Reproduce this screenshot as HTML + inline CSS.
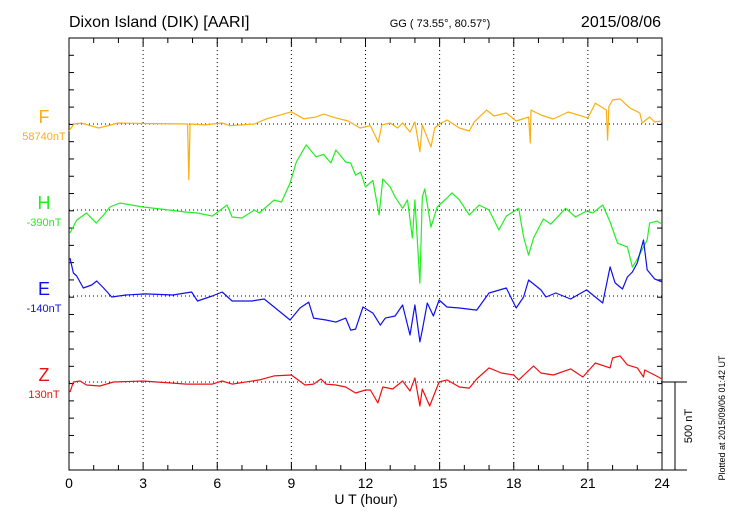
<!DOCTYPE html>
<html><head><meta charset="utf-8"><style>
html,body{margin:0;padding:0;background:#fff;}
svg{display:block;font-family:"Liberation Sans",sans-serif;}
</style></head><body>
<svg id="chart" width="730" height="520" viewBox="0 0 730 520" xmlns="http://www.w3.org/2000/svg">
<rect x="0" y="0" width="730" height="520" fill="#fff"/>
<text x="69" y="27" font-size="16" fill="#000">Dixon Island (DIK)  [AARI]</text>
<text x="440" y="27" font-size="11" text-anchor="middle" fill="#000">GG ( 73.55°,  80.57°)</text>
<text x="661" y="27" font-size="16" text-anchor="end" fill="#000">2015/08/06</text>
<text x="366" y="504" font-size="14" text-anchor="middle" fill="#000">U T (hour)</text>
<text transform="translate(725,418) rotate(-90)" font-size="9" text-anchor="middle" fill="#000">Plotted at 2015/09/06 01:42 UT</text>
<text transform="translate(692,426) rotate(-90)" font-size="11" text-anchor="middle" fill="#000">500 nT</text>
<g id="grid"></g><g id="axes"></g><g id="series"></g><g id="labels"></g>
</svg>
<script>
const NS='http://www.w3.org/2000/svg';
const X0=69,X1=662,Y0=38,Y1=470;
const PXNT=87/500;
const xTicks=[0,3,6,9,12,15,18,21,24];
const fTimes=[0,0.2,0.5,1.2,2,3,4.8,4.85,4.9,5.5,6.2,6.5,7.5,8,9,9.5,10,10.3,10.8,11.3,11.78,12.2,12.52,12.66,13,13.3,13.5,13.8,14,14.2,14.3,14.65,14.8,15,15.3,15.8,16.2,16.4,16.9,17.2,17.7,18.1,18.6,18.67,18.7,19.1,19.6,20.2,21,21.3,21.75,21.8,21.85,22,22.3,22.7,23.1,23.2,23.5,23.7,24];
const fVals=[-40,0,5,-23,6,3,0,-320,0,-5,6,-10,0,30,70,30,40,57,35,17,-23,-10,-104,-6,6,-23,6,-46,12,-160,-6,-132,-23,0,23,-23,-40,12,80,46,63,17,40,-110,80,52,29,69,35,120,80,-92,100,138,144,92,63,6,40,12,17];
const hTimes=[0.04,0.31,0.71,1.1,1.4,1.66,2.06,3,3.7,4.76,5.2,5.8,6.4,6.6,7,7.5,7.7,8.3,8.6,8.95,9.2,9.6,10,10.3,10.6,10.8,11.2,11.4,11.6,11.8,12,12.3,12.55,12.7,13,13.2,13.5,13.7,13.9,14,14.2,14.3,14.4,14.65,14.9,15.3,15.5,15.8,16.2,16.6,17,17.4,17.7,18.2,18.4,18.6,18.8,19.2,19.5,20.1,20.5,20.95,21.2,21.6,21.9,22.2,22.6,22.8,23,23.4,23.5,23.8,24];
const hVals=[-132,-58,-17,-75,-29,17,40,17,6,-12,-17,-35,29,-40,-46,0,-17,57,46,155,276,374,305,320,270,345,276,270,200,218,132,170,-29,178,132,75,10,58,-161,58,-420,75,121,-98,17,69,98,58,-29,29,0,-115,-35,10,-155,-259,-161,-52,-81,10,-40,-6,-17,29,-69,-190,-213,-328,-282,-172,-75,-64,-81];
const eTimes=[0.04,0.18,0.31,0.58,0.92,1.12,1.4,1.73,2.3,3.1,4.2,4.96,5.2,5.8,6.2,6.6,7.4,7.9,8.3,8.95,9.35,9.7,9.9,10.4,10.8,11.2,11.4,11.6,11.9,12.1,12.3,12.6,12.8,13.2,13.5,13.8,14,14.2,14.3,14.5,14.75,14.98,15.3,15.8,16.5,17,17.7,18.1,18.4,18.6,19.1,19.3,19.7,20.3,20.95,21.6,21.9,22.1,22.4,22.6,22.8,23,23.25,23.4,23.7,24];
const eVals=[218,132,115,46,63,86,46,-6,6,12,6,23,-29,0,23,-29,-29,-17,-63,-138,-69,-35,-127,-138,-150,-127,-196,-190,-63,-81,-98,-167,-127,-115,-52,-224,-52,-264,-196,-40,-115,-23,-63,-69,-81,17,46,-69,-6,92,35,-6,17,-17,35,-40,167,75,40,109,138,190,322,150,98,81];
const zTimes=[0.04,0.18,0.45,0.71,1.25,1.8,3,4.76,5.8,6.2,6.6,7.7,8.3,9,9.55,9.9,10.2,10.4,10.8,11.2,11.6,12,12.2,12.5,12.7,13.1,13.5,13.8,14,14.2,14.3,14.6,14.98,15.3,15.8,16.2,16.5,17,17.5,18,18.2,18.8,19.1,19.6,20.3,20.8,21.3,21.9,22,22.3,22.6,23,23.25,23.3,23.7,24];
const zVals=[-58,0,6,-17,-23,0,6,-12,-12,6,-12,12,35,40,-17,-12,17,-12,-17,-29,-63,-46,-46,-120,-29,-40,6,-52,23,-138,-40,-138,0,12,-29,-35,17,81,52,40,12,92,52,40,75,29,109,81,138,150,98,81,29,69,40,17];
const baseY={F:124,H:210,E:296,Z:382};
const xs=h=>X0+(X1-X0)*h/24;
const yv=(b,v)=>b-v*PXNT;
function mk(tag,attrs,parent){const e=document.createElementNS(NS,tag);for(const k in attrs)e.setAttribute(k,attrs[k]);parent.appendChild(e);return e;}
const grid=document.getElementById('grid'),axes=document.getElementById('axes'),ser=document.getElementById('series'),lab=document.getElementById('labels');
// vertical dotted grid
for(let i=1;i<xTicks.length-1;i++){const x=xs(xTicks[i]);
const l=mk('line',{x1:x,y1:Y0,x2:x,y2:Y1,stroke:'#000','stroke-width':1,'stroke-dasharray':'1,3'},grid);

}
// horizontal baselines
for(const k in baseY){const l=mk('line',{x1:X0,y1:baseY[k],x2:X1,y2:baseY[k],stroke:'#000','stroke-width':1,'stroke-dasharray':'1,3'},grid);

}
// frame
const fr=mk('rect',{x:X0,y:Y0,width:X1-X0,height:Y1-Y0,fill:'none',stroke:'#000','stroke-width':1},axes);


// x ticks
for(let h=0;h<=24;h++){const x=xs(h);const len=h%3===0?8:5;
mk('line',{x1:x,y1:Y1,x2:x,y2:Y1-len,stroke:'#000'},axes);
mk('line',{x1:x,y1:Y0,x2:x,y2:Y0+len,stroke:'#000'},axes);}
xTicks.forEach(h=>{const t=mk('text',{x:xs(h),y:488,'font-size':14,'text-anchor':'middle',fill:'#000'},lab);t.textContent=h;

});
// y ticks
for(let i=1;i<25;i++){const y=Y1-i*(Y1-Y0)/25;
mk('line',{x1:X0,y1:y,x2:X0+5,y2:y,stroke:'#000'},axes);
mk('line',{x1:X1,y1:y,x2:X1-5,y2:y,stroke:'#000'},axes);}
// scale bar
const sb=mk('path',{d:`M${X1} ${baseY.Z}H687M675 ${baseY.Z}V${Y1}M650 ${Y1}H687`,stroke:'#000',fill:'none','stroke-width':1},axes);


// series
const defs=[['F',fTimes,fVals,'#f8b010','58740nT'],['H',hTimes,hVals,'#22ee22','-390nT'],['E',eTimes,eVals,'#1010ee','-140nT'],['Z',zTimes,zVals,'#ee1010','130nT']];
defs.forEach(([k,ts,vs,c,ref])=>{const b=baseY[k];
const d=ts.map((t,i)=>(i?'L':'M')+xs(t).toFixed(1)+' '+yv(b,vs[i]).toFixed(1)).join('');
const p=mk('path',{d:d,fill:'none',stroke:c,'stroke-width':1.2,'stroke-linejoin':'round'},ser);


const t=mk('text',{x:44,y:b-1,'font-size':18,'text-anchor':'middle',fill:c},lab);t.textContent=k;


const r=mk('text',{x:44,y:b+16,'font-size':11,'text-anchor':'middle',fill:c},lab);r.textContent=ref;

});
</script>
</body></html>
